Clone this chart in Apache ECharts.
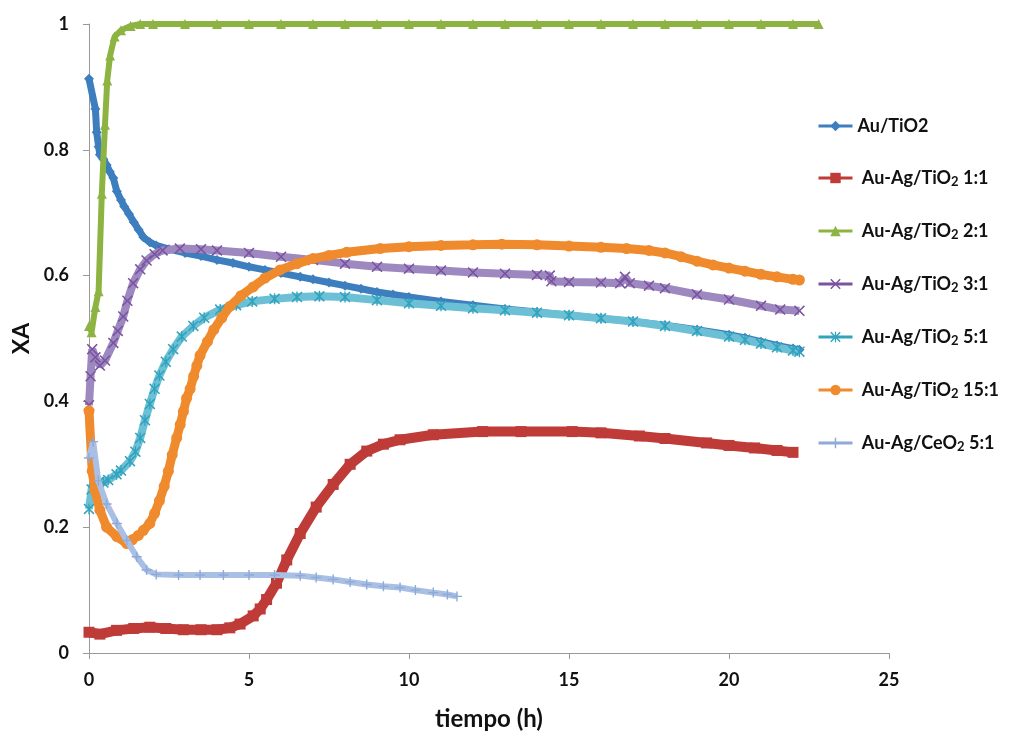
<!DOCTYPE html>
<html>
<head>
<meta charset="utf-8">
<script src="https://cdn.jsdelivr.net/npm/echarts@6/dist/echarts.min.js"></script>
<style>html,body{margin:0;padding:0;background:#fff}#c{width:1012px;height:736px}</style>
</head>
<body>
<div id="c"></div>
<script>
// ---- data ----
var seriesNames = ['Au/TiO2', 'Au-Ag/TiO2 1:1', 'Au-Ag/TiO2 2:1', 'Au-Ag/TiO2 3:1', 'Au-Ag/TiO2 5:1', 'Au-Ag/TiO2 15:1', 'Au-Ag/CeO2 5:1'];
var xTicks = [0, 5, 10, 15, 20, 25];
var yTicks = [0, 0.2, 0.4, 0.6, 0.8, 1];

var auTiO2_t = [0, 0.2, 0.24, 0.3, 0.34, 0.45, 0.55, 0.65, 0.76, 0.87, 1.0, 1.1, 1.25, 1.4, 1.55, 1.7, 1.9, 2.1, 2.5, 3.0, 3.5, 4.0, 4.5, 5.0, 5.5, 6.0, 6.6, 7.0, 7.5, 8.0, 8.5, 9.0, 9.5, 10, 11, 12, 13, 14, 15, 16, 17, 18, 19, 20, 20.5, 21, 21.5, 22, 22.2];
var auTiO2_v = [0.913, 0.865, 0.828, 0.805, 0.792, 0.785, 0.776, 0.765, 0.755, 0.734, 0.72, 0.71, 0.698, 0.685, 0.673, 0.661, 0.653, 0.648, 0.642, 0.636, 0.631, 0.625, 0.62, 0.614, 0.609, 0.604, 0.598, 0.594, 0.589, 0.584, 0.579, 0.574, 0.57, 0.566, 0.559, 0.553, 0.547, 0.542, 0.537, 0.532, 0.527, 0.521, 0.514, 0.506, 0.501, 0.495, 0.489, 0.484, 0.482];

var r11_t = [0, 0.34, 0.86, 1.4, 1.9, 2.4, 2.95, 3.5, 4.0, 4.4, 4.72, 5.13, 5.35, 5.55, 5.86, 6.18, 6.6, 7.1, 7.63, 8.16, 8.68, 9.2, 9.72, 10.76, 12.3, 13.5, 15.1, 16, 17.2, 18, 19.3, 20, 20.8, 21.5, 22];
var r11_v = [0.033, 0.030, 0.036, 0.039, 0.041, 0.039, 0.037, 0.037, 0.037, 0.04, 0.046, 0.059, 0.07, 0.085, 0.111, 0.148, 0.19, 0.232, 0.268, 0.3, 0.321, 0.332, 0.339, 0.347, 0.352, 0.352, 0.352, 0.35, 0.345, 0.341, 0.334, 0.33, 0.326, 0.322, 0.319];

var r21_t = [0, 0.08, 0.2, 0.3, 0.4, 0.5, 0.57, 0.66, 0.8, 1.0, 1.3, 1.6, 2, 3, 4, 5, 6, 7, 8, 9, 10, 11, 12, 13, 14, 15, 16, 17, 18, 19, 20, 21, 22, 22.8];
var r21_v = [0.52, 0.51, 0.55, 0.575, 0.73, 0.84, 0.91, 0.95, 0.98, 0.99, 0.997, 1, 1, 1, 1, 1, 1, 1, 1, 1, 1, 1, 1, 1, 1, 1, 1, 1, 1, 1, 1, 1, 1, 1];

var r31_t = [0, 0.05, 0.1, 0.2, 0.34, 0.5, 0.76, 0.9, 1.07, 1.2, 1.38, 1.6, 1.8, 2.05, 2.3, 2.84, 3.5, 4.0, 5.0, 6.0, 7.0, 8.0, 9.0, 10, 11, 12, 13, 14, 14.4, 14.45, 15, 16, 16.6, 16.75, 16.9, 17.5, 18, 19, 20, 21, 21.6, 22.2];
var r31_v = [0.394, 0.44, 0.483, 0.47, 0.457, 0.465, 0.493, 0.512, 0.535, 0.56, 0.588, 0.61, 0.624, 0.634, 0.64, 0.643, 0.642, 0.64, 0.636, 0.63, 0.625, 0.619, 0.614, 0.611, 0.608, 0.605, 0.603, 0.601, 0.6, 0.591, 0.59, 0.589, 0.588, 0.598, 0.588, 0.584, 0.58, 0.57, 0.562, 0.552, 0.546, 0.544];

var r51_t = [0, 0.08, 0.15, 0.3, 0.45, 0.6, 0.86, 1.0, 1.28, 1.45, 1.6, 1.75, 1.9, 2.05, 2.2, 2.4, 2.63, 2.9, 3.26, 3.6, 4.1, 4.6, 5.1, 5.8, 6.5, 7.2, 8.0, 9.0, 10, 11, 12, 13, 14, 15, 16, 17, 18, 19, 20, 20.5, 21, 21.5, 22, 22.2];
var r51_v = [0.229, 0.26, 0.274, 0.272, 0.271, 0.275, 0.284, 0.29, 0.305, 0.32, 0.342, 0.37, 0.396, 0.42, 0.441, 0.463, 0.483, 0.503, 0.52, 0.533, 0.546, 0.553, 0.559, 0.563, 0.566, 0.567, 0.566, 0.561, 0.556, 0.552, 0.548, 0.545, 0.541, 0.537, 0.532, 0.527, 0.52, 0.512, 0.503, 0.498, 0.492, 0.486, 0.481, 0.479];

var r151_t = [0, 0.1, 0.19, 0.34, 0.55, 0.87, 1.18, 1.35, 1.54, 1.7, 1.9, 2.05, 2.2, 2.35, 2.48, 2.6, 2.74, 2.85, 2.95, 3.05, 3.16, 3.27, 3.37, 3.47, 3.7, 3.9, 4.15, 4.4, 4.75, 5.13, 5.5, 5.97, 6.5, 7.0, 7.5, 8.05, 9.1, 10, 11, 12, 12.9, 14, 15, 16, 16.8, 17.5, 18, 18.5, 19, 19.5, 20, 20.5, 21, 21.5, 22, 22.2];
var r151_v = [0.385, 0.289, 0.258, 0.227, 0.2, 0.185, 0.174, 0.18, 0.187, 0.195, 0.206, 0.222, 0.242, 0.265, 0.289, 0.315, 0.342, 0.363, 0.384, 0.405, 0.42, 0.44, 0.457, 0.473, 0.495, 0.514, 0.533, 0.551, 0.568, 0.582, 0.596, 0.609, 0.619, 0.627, 0.632, 0.637, 0.643, 0.646, 0.648, 0.649, 0.65, 0.649, 0.647, 0.645, 0.643, 0.64, 0.636, 0.63, 0.623, 0.617, 0.612, 0.607, 0.602, 0.598, 0.594, 0.593];

var ce51_t = [0, 0.13, 0.29, 0.55, 0.87, 1.18, 1.49, 1.8, 2.1, 2.8, 3.47, 4.2, 5.0, 5.8, 6.6, 7.1, 7.63, 8.16, 8.68, 9.2, 9.72, 10.2, 10.76, 11.2, 11.5];
var ce51_v = [0.31, 0.336, 0.274, 0.237, 0.206, 0.179, 0.153, 0.132, 0.125, 0.124, 0.124, 0.124, 0.124, 0.124, 0.123, 0.12, 0.117, 0.113, 0.109, 0.106, 0.104, 0.1, 0.096, 0.093, 0.09];

// ---- build ----
function zip(t, v) { return t.map(function (x, i) { return [x, v[i]]; }); }
var xSym = 'path://M0,1L1,0L5,4L9,0L10,1L6,5L10,9L9,10L5,6L1,10L0,9L4,5Z';
var starSym = 'path://M0,1L1,0L5,4L9,0L10,1L6,5L10,9L9,10L5,6L1,10L0,9L4,5ZM4.4,0L5.6,0L5.6,10L4.4,10Z';
var plusSym = 'path://M4.3,0L5.7,0L5.7,4.3L10,4.3L10,5.7L5.7,5.7L5.7,10L4.3,10L4.3,5.7L0,5.7L0,4.3L4.3,4.3Z';

var colors = ['#3d7ebf', '#be3b38', '#8db443', '#7b53a0', '#31a3bd', '#ef8a2d', '#8eaad8'];
var bandColors = ['#3d7ebf', '#be3b38', '#8db443', '#9d88c0', '#6cc0d6', '#ef8a2d', '#a9bfe4'];
var specs = [
  { d: zip(auTiO2_t, auTiO2_v), sym: 'diamond', size: 10, w: 7 },
  { d: zip(r11_t, r11_v), sym: 'rect', size: 11, w: 10 },
  { d: zip(r21_t, r21_v), sym: 'triangle', size: 10, w: 6 },
  { d: zip(r31_t, r31_v), sym: xSym, size: 11, w: 8 },
  { d: zip(r51_t, r51_v), sym: starSym, size: 11, w: 8 },
  { d: zip(r151_t, r151_v), sym: 'circle', size: 11, w: 9 },
  { d: zip(ce51_t, ce51_v), sym: plusSym, size: 10, w: 6 }
];

var series = specs.map(function (s, i) {
  return {
    name: seriesNames[i], type: 'line', data: s.d,
    symbol: s.sym, symbolSize: s.size, showSymbol: true, showAllSymbol: true,
    lineStyle: { color: bandColors[i], width: s.w },
    itemStyle: { color: colors[i] },
    z: 2 + i
  };
});

var FONT = 'Lato, "Open Sans", sans-serif';
var chart = echarts.init(document.getElementById('c'), null, { renderer: 'canvas' });
chart.setOption({
  animation: false,
  backgroundColor: '#fff',
  color: colors,
  grid: { left: 89, right: 123, top: 24, bottom: 75 },
  legend: {
    orient: 'vertical', left: 812, top: 112, itemGap: 34, itemWidth: 34, itemHeight: 13,
    formatter: function (n) {
      if (n === 'Au/TiO2') return '{b|Au/TiO2}';
      var p = n.split('O2');
      return '{b| ' + p[0] + 'O}{s|2}{b|' + p[1] + '}';
    },
    textStyle: {
      rich: {
        b: { fontFamily: FONT, fontWeight: 'bold', fontSize: 18, color: '#111' },
        s: { fontFamily: FONT, fontWeight: 'bold', fontSize: 13, color: '#111', verticalAlign: 'bottom', padding: [7, 0, 0, 0] }
      }
    },
    data: seriesNames.map(function (n, i) { return { name: n, itemStyle: { color: colors[i] }, lineStyle: { color: colors[i], width: 3 } }; })
  },
  xAxis: {
    type: 'value', min: 0, max: 25, interval: 5,
    name: 'tiempo (h)', nameLocation: 'middle', nameGap: 54,
    nameTextStyle: { fontFamily: FONT, fontWeight: 'bold', fontSize: 24, color: '#111' },
    axisLine: { show: true, lineStyle: { color: '#999', width: 1 } },
    axisTick: { show: true, length: 6, lineStyle: { color: '#999' } },
    splitLine: { show: false },
    axisLabel: { fontFamily: FONT, fontWeight: 'bold', fontSize: 18, color: '#111', margin: 18,
      formatter: function (v) { return xTicks.indexOf(v) >= 0 ? String(v) : ''; } }
  },
  yAxis: {
    type: 'value', min: 0, max: 1, interval: 0.2,
    name: 'XA', nameLocation: 'middle', nameGap: 56, nameRotate: 90,
    nameTextStyle: { fontFamily: FONT, fontWeight: 'bold', fontSize: 23, color: '#111' },
    axisLine: { show: true, lineStyle: { color: '#999', width: 1 } },
    axisTick: { show: true, length: 6, lineStyle: { color: '#999' } },
    splitLine: { show: false },
    axisLabel: { fontFamily: FONT, fontWeight: 'bold', fontSize: 18, color: '#111', margin: 20,
      formatter: function (v) {
        var r = Math.round(v * 10) / 10;
        for (var k = 0; k < yTicks.length; k++) if (Math.abs(yTicks[k] - r) < 1e-9) return String(yTicks[k]);
        return '';
      } }
  },
  series: series
});
</script>
</body>
</html>
